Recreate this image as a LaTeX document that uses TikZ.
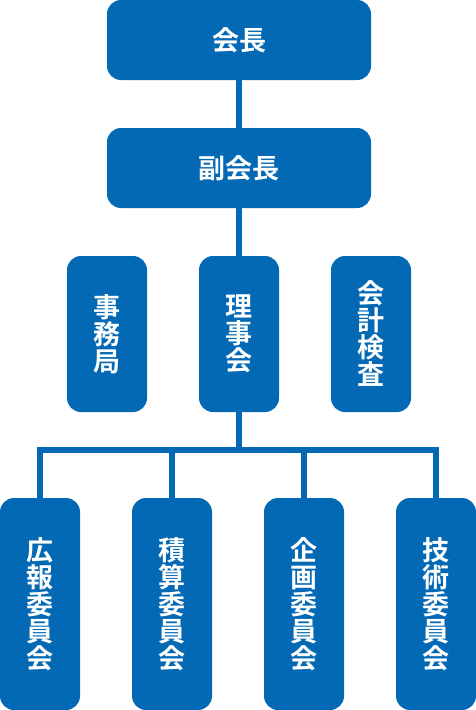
\documentclass[tikz,border=0pt]{standalone}
\usepackage{fontspec}
\setmainfont{Noto Sans CJK JP}[BoldFont={Noto Sans CJK JP Bold}]
\definecolor{orgblue}{HTML}{0369B5}
\begin{document}
\begin{tikzpicture}[x=1pt,y=-1pt,
  box/.style={fill=orgblue,rounded corners=14pt,inner sep=0pt,text=white,
    font=\fontsize{27}{27}\selectfont\bfseries,align=center},
  hbox/.style={box,minimum width=264pt,minimum height=80pt},
  vbox/.style={box,minimum width=80pt,minimum height=156pt},
  lbox/.style={box,minimum width=80pt,minimum height=212pt},
  conn/.style={draw=orgblue,line width=5.3pt}]
\useasboundingbox (0,0) rectangle (476,710);
\node[hbox] (kaicho) at (239,40) {会長};
\node[hbox] (fuku) at (239,168) {副会長};
\node[vbox] (jimu) at (107,334) {事\\務\\局};
\node[vbox] (riji) at (239,334) {理\\事\\会};
\node[vbox] (kansa) at (371,334) {会\\計\\検\\査};
\node[lbox] (kouhou) at (40,604) {広\\報\\委\\員\\会};
\node[lbox] (sekisan) at (172,604) {積\\算\\委\\員\\会};
\node[lbox] (kikaku) at (304,604) {企\\画\\委\\員\\会};
\node[lbox] (gijutsu) at (436,604) {技\\術\\委\\員\\会};
\coordinate (bar) at (239,450);
\draw[conn] (kaicho.south) -- (fuku.north);
\draw[conn] (fuku.south) -- (riji.north);
\draw[conn] (riji.south) -- (bar);
\draw[conn] (kouhou.north) |- (bar) -| (gijutsu.north);
\draw[conn] (sekisan.north) |- (bar);
\draw[conn] (kikaku.north) |- (bar);
\end{tikzpicture}
\end{document}
